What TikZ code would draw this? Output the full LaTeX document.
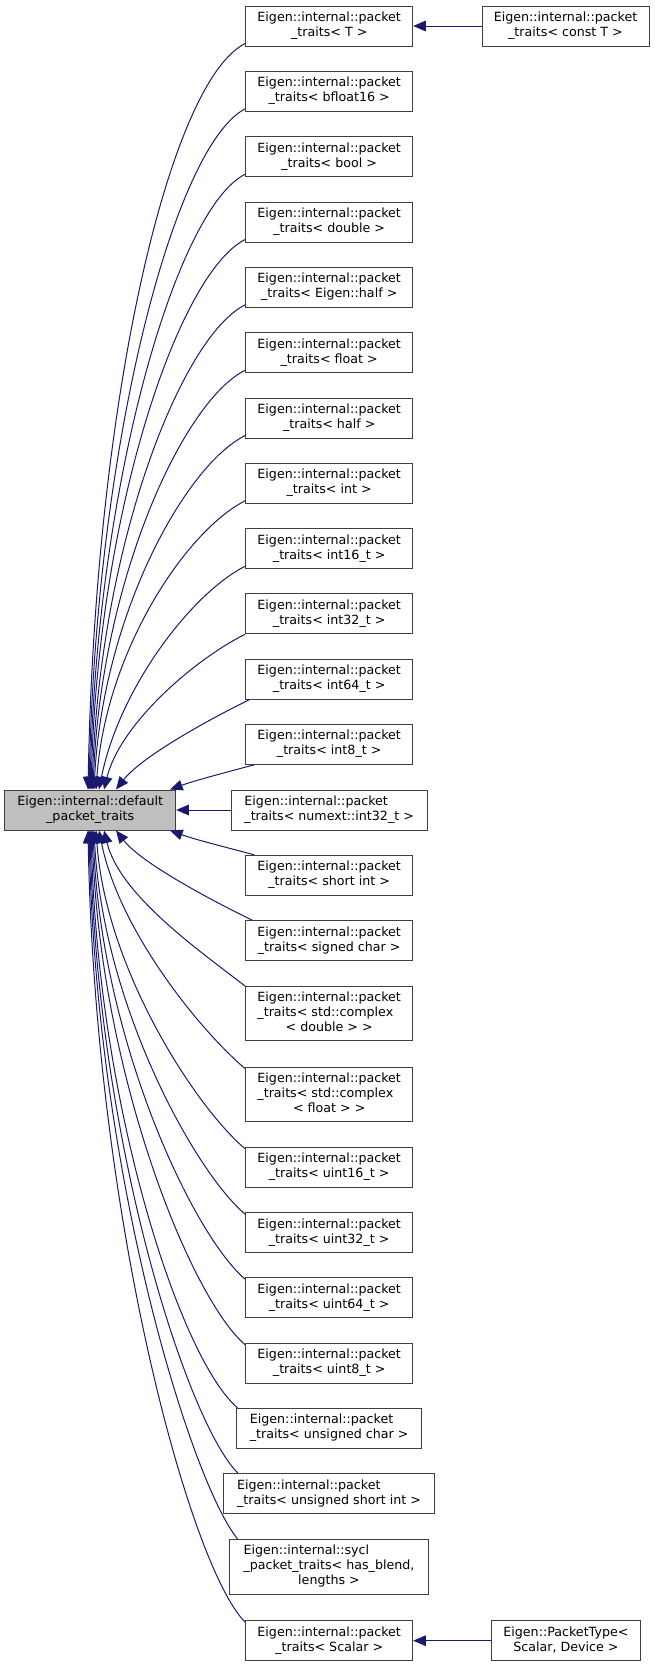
\documentclass[tikz,border=0pt]{standalone}
\usepackage{fontspec}
\setmainfont{DejaVu Sans}
\usetikzlibrary{arrows.meta,calc}
\definecolor{edgeblue}{HTML}{191970}
\definecolor{boxborder}{HTML}{404040}
\newcommand\mylb[2]{\begin{tabular}{@{}l@{}}#1\\\multicolumn{1}{@{}c@{}}{#2}\end{tabular}}
\newcommand\pk[1]{\mylb{Eigen::internal::packet}{\_traits< #1 >}}
\tikzset{
  box/.style={draw=boxborder, line width=0.75pt, fill=white, inner sep=0pt,
    font=\fontsize{9.5}{11.25}\selectfont},
  conn/.style={draw=edgeblue, line width=0.75pt,
    {Triangle[length=9.5pt,width=8pt]}-, fill=none},
}
\newcommand\nd[6]{\node[box, minimum width=#4*0.75pt, minimum height=#5*0.75pt] (#1) at (#2,#3) {#6};}
% edge from a child above: start anchor south west
\newcommand\upedge[5]{\draw[conn] ($(def.north)+(#4,0)$) .. controls ($(def.north)+(#5)$) and ($(#1.south west)+(#3)$) .. ($(#1.south west)+(#2)$);}
\newcommand\dnedge[5]{\draw[conn] ($(def.south)+(#4,0)$) .. controls ($(def.south)+(#5)$) and ($(#1.north west)+(#3)$) .. ($(#1.north west)+(#2)$);}
\begin{document}
\begin{tikzpicture}[x=0.75pt,y=-0.75pt]
\useasboundingbox (0,0) rectangle (655,1667);
% main node
\node[box, fill=gray!50, minimum width=171*0.75pt, minimum height=40*0.75pt] (def) at (90.2,810) {\mylb{Eigen::internal::default}{\_packet\_traits}};
% children
\nd{T}{329.2}{26}{167}{40}{\pk{T}}
\nd{cT}{565.5}{26}{167}{40}{\pk{const T}}
\nd{bf}{329.2}{91.3}{167}{40}{\pk{bfloat16}}
\nd{bool}{329.2}{156.7}{167}{40}{\pk{bool}}
\nd{dbl}{329.2}{222}{167}{40}{\pk{double}}
\nd{eh}{329.2}{287.3}{167}{40}{\pk{Eigen::half}}
\nd{flt}{329.2}{352.7}{167}{40}{\pk{float}}
\nd{hlf}{329.2}{418}{167}{40}{\pk{half}}
\nd{int}{329.2}{483.3}{167}{40}{\pk{int}}
\nd{i16}{329.2}{548.7}{167}{40}{\pk{int16\_t}}
\nd{i32}{329.2}{613.7}{167}{40}{\pk{int32\_t}}
\nd{i64}{329.2}{679.3}{167}{40}{\pk{int64\_t}}
\nd{i8}{329.2}{744.3}{167}{40}{\pk{int8\_t}}
\nd{nx}{329.2}{810}{196.3}{40}{\pk{numext::int32\_t}}
\nd{si}{329.2}{875.3}{167}{40}{\pk{short int}}
\nd{sc}{329.2}{940.7}{167}{40}{\pk{signed char}}
\nd{cd}{329.2}{1013.8}{167}{54.3}{\mylb{Eigen::internal::packet\\\_traits< std::complex}{< double > >}}
\nd{cf}{329.2}{1094.3}{167}{54.3}{\mylb{Eigen::internal::packet\\\_traits< std::complex}{< float > >}}
\nd{u16}{329.2}{1167.3}{167}{40}{\pk{uint16\_t}}
\nd{u32}{329.2}{1232.7}{167}{40}{\pk{uint32\_t}}
\nd{u64}{329.2}{1297.7}{167}{40}{\pk{uint64\_t}}
\nd{u8}{329.2}{1363.3}{167}{40}{\pk{uint8\_t}}
\nd{uc}{329.2}{1428.3}{185}{40}{\pk{unsigned char}}
\nd{us}{329}{1493.5}{211.4}{40}{\pk{unsigned short int}}
\nd{sy}{329}{1566.8}{199.4}{55}{\mylb{Eigen::internal::sycl\\\_packet\_traits< has\_blend,}{lengths >}}
\nd{sca}{329.2}{1640.7}{167}{40}{\pk{Scalar}}
\nd{pt}{565.9}{1640.7}{149.7}{40}{\mylb{Eigen::PacketType<}{Scalar, Device >}}
% horizontal edges
\draw[conn] (T.east) -- (cT.west);
\draw[conn] (def.east) -- (nx.west);
\draw[conn] (sca.east) -- (pt.west);
% edges from children above
\upedge{T}{0,-3}{-76,35}{-2.2}{4.8,-390}
\upedge{bf}{0,-3}{-70,33}{-1.2}{5.8,-350}
\upedge{bool}{0,-3}{-68,31}{-0.2}{6.8,-310}
\upedge{dbl}{0,-3}{-66,30}{0.8}{7.8,-280}
\upedge{eh}{0,-3}{-64,29}{1.8}{9.8,-245}
\upedge{flt}{0,-3}{-62,28}{2.8}{10.8,-210}
\upedge{hlf}{0,-3}{-60,27}{3.8}{12.8,-175}
\upedge{int}{0,-3}{-58,26}{5.8}{15.8,-140}
\upedge{i16}{0,-3}{-55,25}{8.8}{28.8,-100}
\upedge{i32}{0,0}{-52,26}{13.8}{29.8,-65}
\upedge{i64}{4,0}{-41,22}{25.8}{50.8,-32}
\upedge{i8}{9,0}{-21,8}{79.8}{104.8,-9}
% edges from children below
\dnedge{si}{9,0}{-21,-8}{79.8}{104.8,9}
\dnedge{sc}{7,0}{-38,-22}{25.8}{50.8,32}
\dnedge{cd}{0,0}{-45,-35}{13.8}{29.8,65}
\dnedge{cf}{0,2}{-45,-36}{8.8}{28.8,100}
\dnedge{u16}{0,2}{-48,-38}{5.8}{15.8,140}
\dnedge{u32}{0,2}{-50,-40}{3.8}{12.8,175}
\dnedge{u64}{0,2}{-52,-42}{2.8}{10.8,210}
\dnedge{u8}{0,2}{-54,-44}{1.8}{9.8,245}
\dnedge{uc}{1.3,0}{-55,-48}{0.8}{7.8,280}
\dnedge{us}{15,0}{-35,-50}{-0.2}{6.8,315}
\dnedge{sy}{8.7,0}{-36.3,-55}{-1.2}{5.8,350}
\dnedge{sca}{0,2}{-55,-53}{-2.2}{4.8,390}
\end{tikzpicture}
\end{document}
